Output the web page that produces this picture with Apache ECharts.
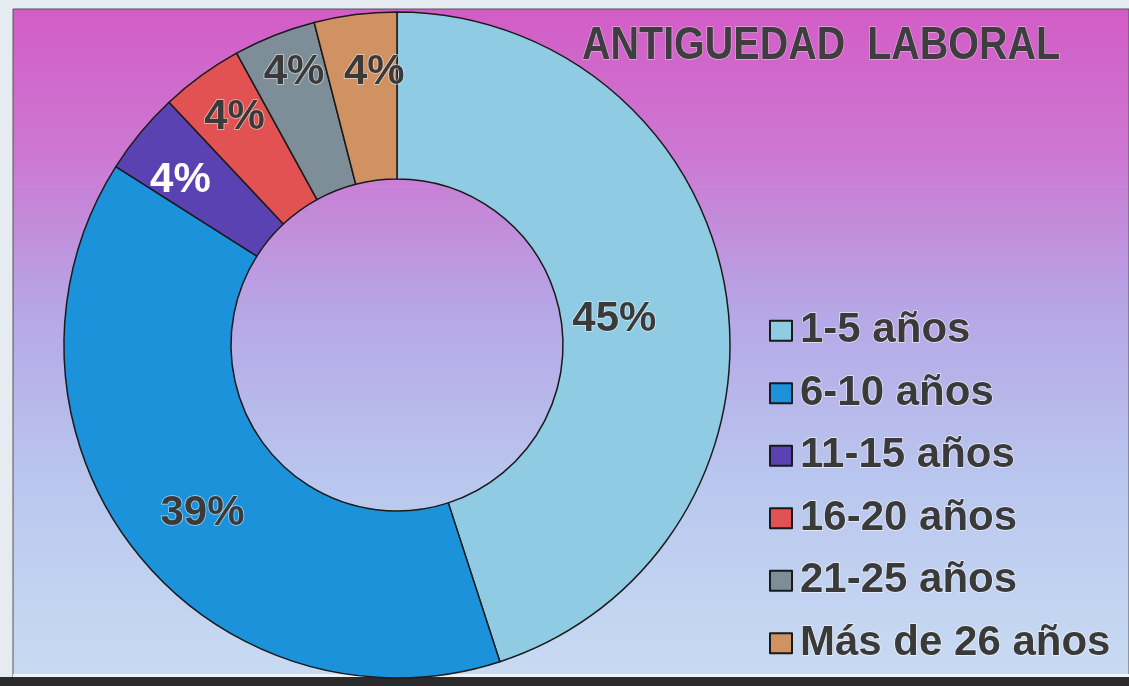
<!DOCTYPE html>
<html>
<head>
<meta charset="utf-8">
<script src="https://cdn.jsdelivr.net/npm/echarts@6/dist/echarts.min.js"></script>
<style>html,body{margin:0;padding:0;}#c{width:1129px;height:686px;}</style>
</head>
<body>
<div id="c"></div>
<script>
const categories = ['1-5 años', '6-10 años', '11-15 años', '16-20 años', '21-25 años', 'Más de 26 años'];
const values = [45, 39, 4, 4, 4, 4];
const colors = ['#8fcbe2', '#1b92da', '#5b42b3', '#e25252', '#7e8e98', '#d09262'];
const titleText = 'ANTIGUEDAD  LABORAL';

const labelNudge = [[-32, 14], [5, 14], [-22, -4], [-14, -23], [-10, -38], [9, -22]];
const labelColors = ['#3a3a3a', '#3a3a3a', '#ffffff', '#3a3a3a', '#3a3a3a', '#3a3a3a'];

const chart = echarts.init(document.getElementById('c'), null, {renderer: 'canvas'});
const option = {
  animation: false,
  backgroundColor: '#e6eaf1',
  graphic: [
    {type: 'rect', z: -10, shape: {x: 13, y: 9, width: 1116, height: 668},
     style: {fill: {type: 'linear', x: 0, y: 0, x2: 0, y2: 1, colorStops: [
       {offset: 0, color: '#d35cc6'}, {offset: 0.22, color: '#cc78d2'},
       {offset: 0.45, color: '#b6a6e6'}, {offset: 0.7, color: '#b9c6ee'},
       {offset: 1, color: '#c8dbf2'}]}, stroke: '#555', lineWidth: 1}},
    {type: 'rect', z: -9, shape: {x: 0, y: 677, width: 1129, height: 9}, style: {fill: '#2b2b2b'}},
    {type: 'rect', z: -9, shape: {x: 13, y: 674, width: 1116, height: 3}, style: {fill: '#eef2f8'}},
    {type: 'text', z: 5, x: 582, y: 46, scaleX: 0.84, originX: 0, originY: 0,
     style: {text: titleText, fontFamily: 'Liberation Sans, Arial, sans-serif', fontWeight: 'bold', fontSize: 47,
       fill: '#3e3e3e', stroke: 'rgba(255,255,255,0.45)', lineWidth: 1.5,
       textAlign: 'left', textVerticalAlign: 'middle'}}
  ],
  legend: {
    orient: 'vertical', left: 764, top: 304,
    itemWidth: 22, itemHeight: 20, itemGap: 19,
    icon: 'rect',
    data: categories,
    textStyle: {fontFamily: 'Liberation Sans, Arial, sans-serif', fontWeight: 'bold', fontSize: 42, lineHeight: 42,
      color: '#3a3a3a', textBorderColor: 'rgba(255,255,255,0.7)', textBorderWidth: 1.5, padding: [0, 0, 0, 3]}
  },
  series: [{
    type: 'pie',
    center: [397, 345],
    radius: [166, 333],
    startAngle: 90,
    clockwise: true,
    silent: true,
    itemStyle: {borderColor: '#1a1a1a', borderWidth: 1.5},
    label: {
      show: true, position: 'inside', formatter: '{c}%',
      fontFamily: 'Liberation Sans, Arial, sans-serif', fontWeight: 'bold', fontSize: 42,
      textBorderColor: 'rgba(255,255,255,0.6)', textBorderWidth: 1.5
    },
    labelLine: {show: false},
    labelLayout: function (p) {
      const n = labelNudge[p.dataIndex];
      return {dx: n[0], dy: n[1]};
    },
    data: categories.map((c, i) => ({
      name: c, value: values[i],
      itemStyle: {color: colors[i]},
      label: {color: labelColors[i], textBorderColor: i === 2 ? 'rgba(0,0,0,0)' : 'rgba(255,255,255,0.6)'}
    }))
  }]
};
chart.setOption(option);
</script>
</body>
</html>
